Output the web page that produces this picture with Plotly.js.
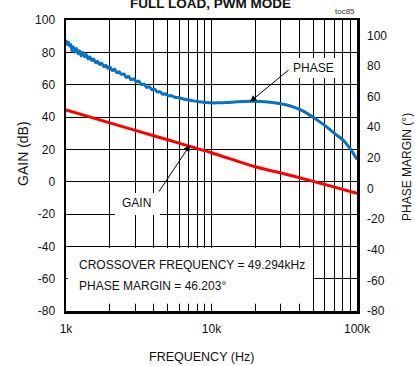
<!DOCTYPE html>
<html><head><meta charset="utf-8">
<script src="https://cdn.plot.ly/plotly-3.0.1.min.js"></script>
<style>html,body{margin:0;padding:0;background:#fff}#c{width:415px;height:366px}</style>
</head><body><div id="c"></div>
<script>
// Gain (dB) vs frequency (Hz)
const gainFreq = [1000, 2000, 3000, 5000, 10000, 20000, 30000, 50000, 70000, 100000];
const gainDb   = [44.3, 36.4, 31.7, 25.9, 17.9, 9.2, 5.4, 0.2, -3.4, -7.2];

// Phase margin (deg) vs frequency (kHz)
const phaseFreqK = [1.00,1.02,1.04,1.06,1.08,1.10,1.12,1.15,1.18,1.21,1.24,1.27,1.30,1.34,1.38,1.42,1.46,1.50,1.55,1.60,1.65,1.70,1.76,1.82,1.88,1.94,2.00,2.08,2.16,2.24,2.32,2.40,2.50,2.60,2.70,2.80,2.92,3.04,3.16,3.30,3.44,3.58,3.74,3.90,4.06,4.24,4.42,4.62,4.82,5.04,5.30,5.60,6.0,6.5,7.0,7.5,8.2,9.0,10,11,12.7,15,18.4,22,25.3,29.5,33,36.4,42,47.4,54,61.8,70,80.5,90,100];
const phaseDeg   = [97,94,95.5,93,94,90,92.5,89,91.5,88,90,86.5,89,86,87.5,84.5,86,83.5,84.5,82,83,81,81.8,79.5,80.5,78.5,79.5,77,77.8,75.5,76.2,74.5,74.8,72.5,73.2,71,71.6,69.5,70.2,67.8,68.2,66,66.5,64.5,65,63,63.2,61.5,61.8,60.5,60.6,59.6,59.2,58.3,57.7,57.2,56.6,56.2,55.9,55.9,56.1,56.6,57,56.8,56.3,55.5,54.5,53.3,50.8,47.9,44.3,40.2,36,31.5,25.8,19];

const xTickVals = [1000,2000,3000,4000,5000,6000,7000,8000,9000,10000,20000,30000,40000,50000,60000,70000,80000,90000,100000];
const xTickText = ['1k','','','','','','','','','10k','','','','','','','','','100k'];
const yTickVals = [-80,-60,-40,-20,0,20,40,60,80,100];
const yTickText = ['-80','-60','-40','-20','0','20','40','60','80','100'];

const phaseFreq = phaseFreqK.map(v => v * 1000);

const F = "'Liberation Sans', Arial, sans-serif";
const FS = 12;

const traces = [
  {x: gainFreq, y: gainDb, type: 'scatter', mode: 'lines', line: {color: '#ff0000', width: 3, shape: 'spline', smoothing: 0.8}, yaxis: 'y', hoverinfo: 'skip'},
  {x: phaseFreq, y: phaseDeg, type: 'scatter', mode: 'lines', line: {color: '#0a72c2', width: 3, shape: 'spline', smoothing: 0.6}, yaxis: 'y2', hoverinfo: 'skip'}
];

const layout = {
  width: 415, height: 366,
  margin: {l: 66, r: 58, t: 20, b: 55},
  paper_bgcolor: '#fff', plot_bgcolor: '#fff',
  showlegend: false,
  font: {family: F, size: FS, color: '#111'},
  xaxis: {
    type: 'log', range: [3, 5],
    tickvals: xTickVals, ticktext: xTickText,
    ticks: 'inside', ticklen: 7, tickcolor: '#000', tickwidth: 1,
    showgrid: true, gridcolor: '#000', gridwidth: 1,
    showline: true, linecolor: '#000', linewidth: 2.5, mirror: true,
    tickfont: {family: F, size: FS, color: '#111'},
    ticklabelstandoff: 5,
    zeroline: false
  },
  yaxis: {
    range: [-80, 100], tickvals: yTickVals, ticktext: yTickText,
    showgrid: true, gridcolor: '#000', gridwidth: 1, zeroline: false,
    showline: true, linecolor: '#000', linewidth: 2.5, mirror: true,
    ticks: '', tickfont: {family: F, size: FS, color: '#111'},
    ticklabelstandoff: 6
  },
  yaxis2: {
    overlaying: 'y', side: 'right', range: [-80, 110], tickvals: yTickVals, ticktext: yTickText,
    showgrid: false, zeroline: false, showline: false, ticks: '',
    tickfont: {family: F, size: FS, color: '#111'},
    ticklabelstandoff: 9
  },
  shapes: [
    {type: 'rect', xref: 'paper', yref: 'y', x0: 0.006, x1: 0.8475, y0: -75.5, y1: -41, fillcolor: '#fff', line: {width: 0}, layer: 'above'},
    {type: 'rect', xref: 'paper', yref: 'paper', x0: 0.168, x1: 0.323, y0: 0.33, y1: 0.4055, fillcolor: '#fff', line: {width: 0}, layer: 'above'},
    {type: 'rect', xref: 'paper', yref: 'paper', x0: 0.77, x1: 0.931, y0: 0.8007, y1: 0.869, fillcolor: '#fff', line: {width: 0}, layer: 'above'}
  ],
  annotations: [
    {text: '<b>FULL LOAD, PWM MODE</b>', xref: 'paper', yref: 'paper', x: 0.498, y: 1.055, showarrow: false, xanchor: 'center', yanchor: 'middle', font: {family: F, size: 13.5, color: '#111'}},
    {text: 'toc85', xref: 'paper', yref: 'paper', x: 1.0, y: 1.0275, showarrow: false, xanchor: 'right', yanchor: 'middle', font: {family: F, size: 8, color: '#333'}},
    {text: 'GAIN (dB)', xref: 'paper', yref: 'paper', x: -0.1478, y: 0.543, textangle: -90, showarrow: false, xanchor: 'center', yanchor: 'middle', font: {family: F, size: 14, color: '#111'}},
    {text: 'PHASE MARGIN (°)', xref: 'paper', yref: 'paper', x: 1.1718, y: 0.4948, textangle: -90, showarrow: false, xanchor: 'center', yanchor: 'middle', font: {family: F, size: 12, color: '#111'}},
    {text: 'FREQUENCY (Hz)', xref: 'paper', yref: 'paper', x: 0.466, y: -0.157, showarrow: false, xanchor: 'center', yanchor: 'middle', font: {family: F, size: 12.5, color: '#111'}},
    {text: 'CROSSOVER FREQUENCY = 49.294kHz', xref: 'paper', yref: 'paper', x: 0.0368, y: 0.158, showarrow: false, xanchor: 'left', yanchor: 'middle', font: {family: F, size: FS, color: '#111'}},
    {text: 'PHASE MARGIN = 46.203°', xref: 'paper', yref: 'paper', x: 0.0368, y: 0.0859, showarrow: false, xanchor: 'left', yanchor: 'middle', font: {family: F, size: FS, color: '#111'}},
    {text: 'PHASE', xref: 'paper', yref: 'paper', x: 0.85, y: 0.836, showarrow: false, xanchor: 'center', yanchor: 'middle', font: {family: F, size: FS, color: '#111'}},
    {text: 'GAIN', xref: 'paper', yref: 'paper', x: 0.243, y: 0.370, showarrow: false, xanchor: 'center', yanchor: 'middle', font: {family: F, size: FS, color: '#111'}},
    {text: '', xref: 'x', yref: 'y', x: Math.log10(18390), y: 49.4, ax: 40, ay: -33, showarrow: true, arrowhead: 2, arrowsize: 1.3, arrowwidth: 1, arrowcolor: '#000', standoff: 0},
    {text: '', xref: 'x', yref: 'y', x: Math.log10(7120), y: 22.7, ax: -32, ay: 48, showarrow: true, arrowhead: 2, arrowsize: 1.3, arrowwidth: 1, arrowcolor: '#000', standoff: 0}
  ]
};

Plotly.newPlot('c', traces, layout, {staticPlot: true, displayModeBar: false});
</script>
</body></html>
